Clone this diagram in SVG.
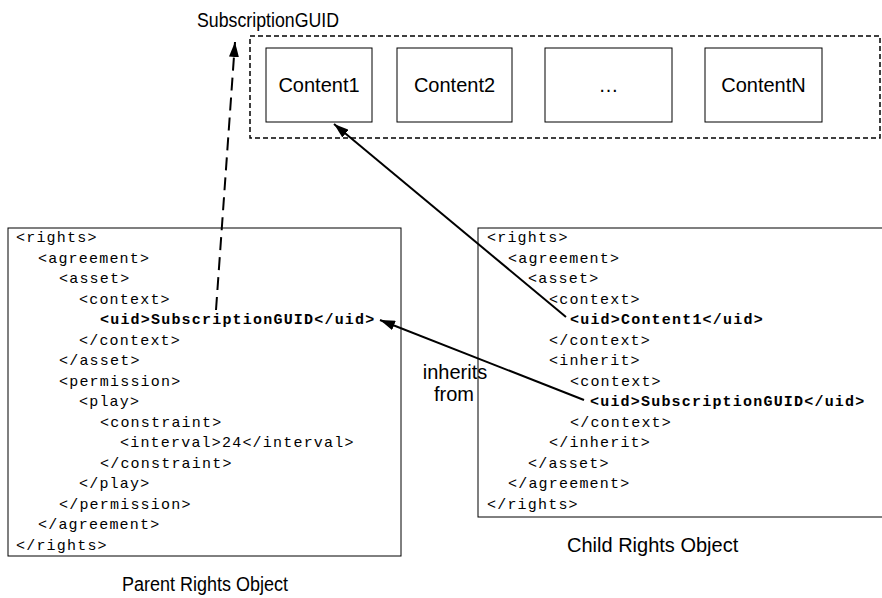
<svg xmlns="http://www.w3.org/2000/svg" width="882" height="598" viewBox="0 0 882 598">
<style>
.box{fill:#fff;stroke:#000;stroke-width:1}
.lbl{font-family:"Liberation Sans",Arial,sans-serif;font-size:20px;fill:#000}
.code{font-family:"Liberation Mono","Courier New",monospace;font-size:15px;letter-spacing:1.2px;fill:#000}
.b{font-weight:bold}
.solid{stroke:#000;stroke-width:2;fill:none}
.dash{stroke:#000;stroke-width:2;fill:none;stroke-dasharray:13,7}
</style>
<defs>
<marker id="ah" viewBox="0 0 15 10" refX="15" refY="5" markerWidth="15" markerHeight="10" markerUnits="userSpaceOnUse" orient="auto">
<path d="M0,0 L15,5 L0,10 Z" fill="#000"/>
</marker>
</defs>
<rect width="882" height="598" fill="#fff"/>
<g id="subscription-label"><text class="lbl" x="197" y="27" font-size="19" textLength="142" lengthAdjust="spacingAndGlyphs">SubscriptionGUID</text></g>
<g id="content-group">
<rect x="250" y="36" width="630" height="102" fill="none" stroke="#000" stroke-width="1.5" stroke-dasharray="5,3"/>
</g>
<g id="content1"><rect class="box" x="266" y="48" width="106" height="74"/><text class="lbl" x="319" y="92" text-anchor="middle">Content1</text></g>
<g id="content2"><rect class="box" x="397" y="48" width="115" height="74"/><text class="lbl" x="454.5" y="92" text-anchor="middle">Content2</text></g>
<g id="content-dots"><rect class="box" x="545" y="48" width="127" height="74"/><text class="lbl" x="608.5" y="92" text-anchor="middle">…</text></g>
<g id="contentN"><rect class="box" x="705" y="48" width="117" height="74"/><text class="lbl" x="763.5" y="92" text-anchor="middle">ContentN</text></g>
<g id="parent">
<rect class="box" x="8" y="228" width="393" height="328"/>
<text class="code" x="16" y="242">&lt;rights&gt;</text>
<text class="code" x="38" y="262.5">&lt;agreement&gt;</text>
<text class="code" x="59" y="283">&lt;asset&gt;</text>
<text class="code" x="79" y="303.5">&lt;context&gt;</text>
<text class="code b" x="100" y="324">&lt;uid&gt;SubscriptionGUID&lt;/uid&gt;</text>
<text class="code" x="79" y="344.5">&lt;/context&gt;</text>
<text class="code" x="59" y="365">&lt;/asset&gt;</text>
<text class="code" x="59" y="385.5">&lt;permission&gt;</text>
<text class="code" x="79" y="406">&lt;play&gt;</text>
<text class="code" x="100" y="426.5">&lt;constraint&gt;</text>
<text class="code" x="120" y="447">&lt;interval&gt;24&lt;/interval&gt;</text>
<text class="code" x="100" y="467.5">&lt;/constraint&gt;</text>
<text class="code" x="79" y="488">&lt;/play&gt;</text>
<text class="code" x="59" y="508.5">&lt;/permission&gt;</text>
<text class="code" x="38" y="529">&lt;/agreement&gt;</text>
<text class="code" x="16" y="549.5">&lt;/rights&gt;</text>
</g>
<g id="parent-label"><text class="lbl" x="122" y="591" textLength="166" lengthAdjust="spacingAndGlyphs">Parent Rights Object</text></g>
<g id="child">
<rect class="box" x="478" y="228" width="420" height="289"/>
<text class="code" x="487" y="242">&lt;rights&gt;</text>
<text class="code" x="508" y="262.5">&lt;agreement&gt;</text>
<text class="code" x="528" y="283">&lt;asset&gt;</text>
<text class="code" x="549" y="303.5">&lt;context&gt;</text>
<text class="code b" x="570" y="324">&lt;uid&gt;Content1&lt;/uid&gt;</text>
<text class="code" x="549" y="344.5">&lt;/context&gt;</text>
<text class="code" x="549" y="365">&lt;inherit&gt;</text>
<text class="code" x="570" y="385.5">&lt;context&gt;</text>
<text class="code b" x="590" y="406">&lt;uid&gt;SubscriptionGUID&lt;/uid&gt;</text>
<text class="code" x="570" y="426.5">&lt;/context&gt;</text>
<text class="code" x="549" y="447">&lt;/inherit&gt;</text>
<text class="code" x="528" y="467.5">&lt;/asset&gt;</text>
<text class="code" x="508" y="488">&lt;/agreement&gt;</text>
<text class="code" x="487" y="508.5">&lt;/rights&gt;</text>
</g>
<g id="child-label"><text class="lbl" x="567" y="552">Child Rights Object</text></g>
<g id="connectors">
<line class="dash" x1="216" y1="310" x2="235" y2="42" marker-end="url(#ah)"/>
<line class="solid" x1="566" y1="317" x2="334" y2="124" marker-end="url(#ah)"/>
<line class="solid" x1="584" y1="400" x2="380" y2="320" marker-end="url(#ah)"/>
<text class="lbl" x="455" y="379" text-anchor="middle">inherits</text>
<text class="lbl" x="454" y="401" text-anchor="middle">from</text>
</g>
</svg>
